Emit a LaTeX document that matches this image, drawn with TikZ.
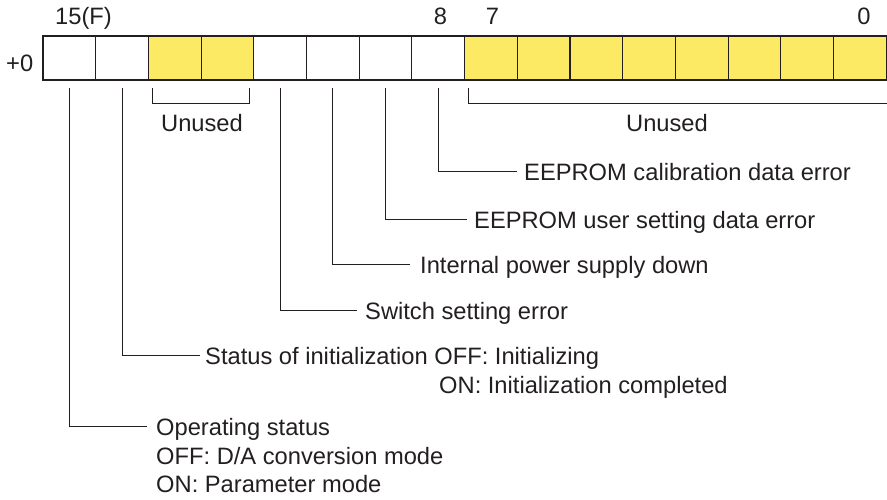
\documentclass[tikz,border=0pt]{standalone}
\usepackage{fontspec}
\setmainfont{Liberation Sans}
\definecolor{unused}{HTML}{FCEA64}
\definecolor{ink}{HTML}{231F20}
\tikzset{
  cell/.style={draw=ink, line width=1.1pt, minimum width=52.7pt, minimum height=44pt, inner sep=0pt, outer sep=0pt},
  txt/.style={font=\fontsize{23.7}{27}\selectfont, text=ink, inner sep=0pt},
  lbl/.style={txt, anchor=west, text height=18pt, text depth=0pt},
  conn/.style={draw=ink, line width=1pt},
}
\begin{document}
\begin{tikzpicture}[x=1pt,y=-1pt]
\useasboundingbox (0,0) rectangle (887,499);
% register cells
\foreach \i in {0,...,15}{
  \pgfmathtruncatemacro{\b}{15-\i}
  \pgfmathsetmacro{\cx}{43+52.7*\i+26.35}
  \ifnum\b<8 \def\fc{unused}\else\ifnum\b=13 \def\fc{unused}\else\ifnum\b=12 \def\fc{unused}\else\def\fc{white}\fi\fi\fi
  \node[cell, fill=\fc] (b\b) at (\cx,58) {};
}
% top labels
\node[txt, anchor=base west] (t15) at (55,24) {15(F)};
\node[txt, anchor=base] (t8) at (440.5,24) {8};
\node[txt, anchor=base] (t7) at (492.5,24) {7};
\node[txt, anchor=base] (t0) at (864,24) {0};
\node[txt, anchor=base west] (reg) at (6,71.5) {+0};
% unused brackets
\coordinate (rend) at (890,103);
\draw[conn] ([xshift=4pt,yshift=-8pt]b13.south west) -- ++(0,15) -| ([xshift=-4pt,yshift=-8pt]b12.south east);
\draw[conn] ([xshift=4pt,yshift=-8pt]b7.south west) |- (rend);
\node[txt, anchor=base] (u1) at (202,131.5) {Unused};
\node[txt, anchor=base] (u2) at (667,131.5) {Unused};
% descriptions
\node[lbl] (d8) at (524,171) {EEPROM calibration data error};
\node[lbl] (d9) at (474,219) {EEPROM user setting data error};
\node[lbl] (d10) at (420,264) {Internal power supply down};
\node[lbl] (d11) at (365,310) {Switch setting error};
\node[lbl] (d14) at (205,355) {Status of initialization OFF: Initializing};
\node[txt, anchor=base west] (d14b) at (439,393) {ON: Initialization completed};
\node[lbl] (d15) at (156,426) {Operating status};
\node[txt, anchor=base west] (d15b) at (156,464) {OFF: D/A conversion mode};
\node[txt, anchor=base west] (d15c) at (156,492) {ON: Parameter mode};
% connectors
\draw[conn] ([yshift=-8pt]b8.south) |- ([xshift=-7pt]d8.west);
\draw[conn] ([yshift=-8pt]b9.south) |- ([xshift=-7pt]d9.west);
\draw[conn] ([yshift=-8pt]b10.south) |- ([xshift=-10pt]d10.west);
\draw[conn] ([yshift=-8pt]b11.south) |- ([xshift=-8pt]d11.west);
\draw[conn] ([yshift=-8pt]b14.south) |- ([xshift=-5pt]d14.west);
\draw[conn] ([yshift=-8pt]b15.south) |- ([xshift=-9pt]d15.west);
\end{tikzpicture}
\end{document}
